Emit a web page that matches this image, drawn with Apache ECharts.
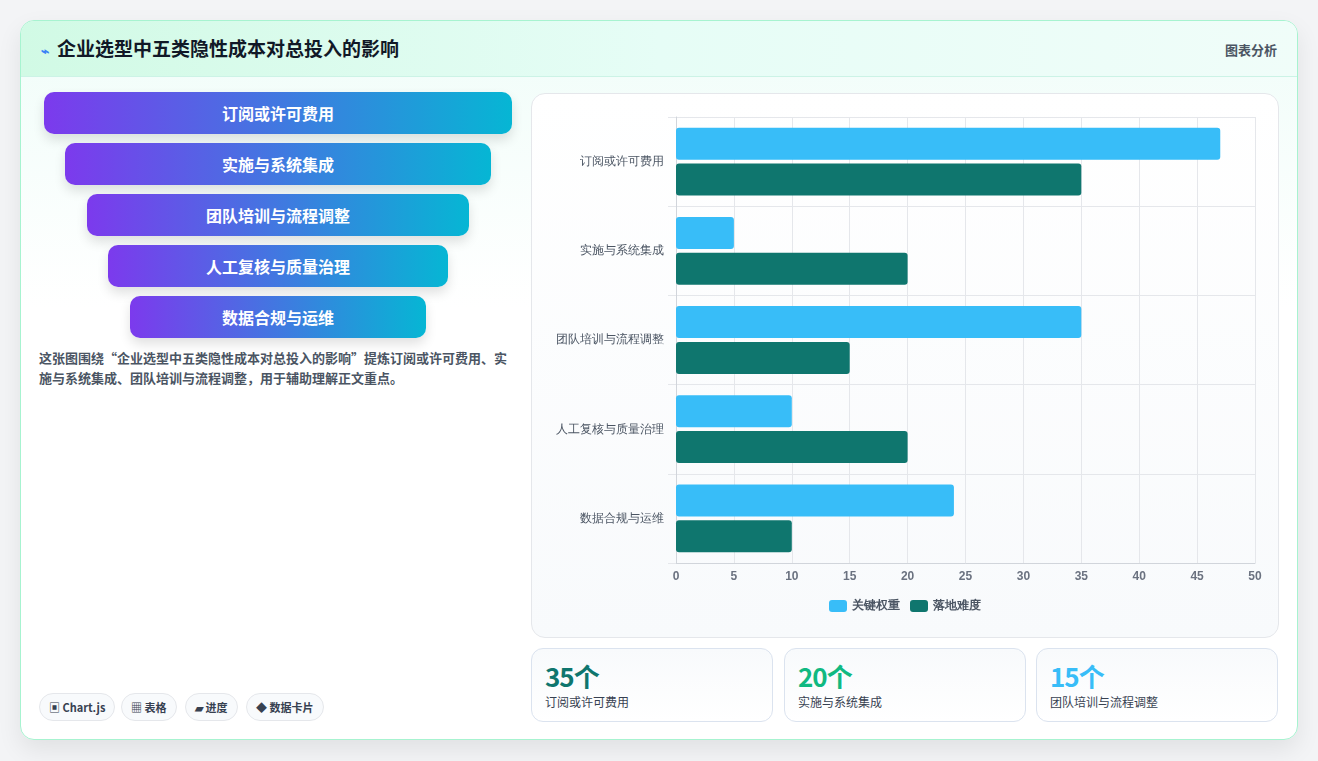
<!DOCTYPE html>
<html>
<head>
<meta charset="utf-8">
<script src="https://cdn.jsdelivr.net/npm/echarts@6/dist/echarts.min.js"></script>
<style>
  body { margin: 0; width: 1318px; height: 761px; background: #f3f4f6; font-family: "Noto Sans CJK SC", "Noto Sans", sans-serif; overflow: hidden; }
  .card { position: absolute; left: 20px; top: 20px; width: 1276px; height: 718px; background: linear-gradient(#f0fdf9, #ffffff 40%); border: 1px solid #a7f3d0; border-radius: 14px; box-shadow: 0 10px 24px rgba(0,0,0,0.08); overflow: hidden; }
  .head { position: absolute; left: 0; top: 0; right: 0; height: 55px; background: linear-gradient(90deg, #d1fae5, #e6fdf6, #f0fdf9); border-bottom: 1px solid #ccf3e6; }
  .title { position: absolute; left: 20px; top: 13px; font-size: 19px; font-weight: bold; color: #111827; }
  .title span { color: #3b82f6; font-size: 14px; margin-right: 8px; }
  .tag { position: absolute; right: 20px; top: 19px; font-size: 13px; color: #4b5563; font-weight: bold; }
  .fun { position: absolute; height: 42px; border-radius: 10px; background: linear-gradient(90deg, #7c3aed, #06b6d4); color: #fff; font-weight: bold; font-size: 16px; text-align: center; line-height: 42px; box-shadow: 0 6px 12px rgba(0,0,0,0.12); }
  .desc { position: absolute; left: 18px; top: 327px; width: 475px; font-size: 13px; line-height: 20px; color: #4b5563; font-weight: bold; }
  .badge { position: absolute; top: 672px; height: 26px; line-height: 26px; padding: 0 9px; border: 1px solid #e5e7eb; border-radius: 14px; background: #f8fafc; font-size: 11px; color: #374151; font-weight: bold; }
  .panel { position: absolute; left: 510px; top: 72px; width: 746px; height: 543px; border: 1px solid #e5e7eb; border-radius: 14px; background: linear-gradient(#ffffff, #f8fafc); }
  #chart { width: 746px; height: 543px; }
  .stat { position: absolute; top: 627px; width: 240px; height: 72px; border: 1px solid #dbe3ef; border-radius: 12px; background: linear-gradient(#f8fafc, #ffffff); }
  .stat b { position: absolute; left: 13px; top: 8px; font-size: 26px; letter-spacing: -1px; }
  .stat i { position: absolute; left: 13px; top: 44px; font-size: 12px; font-style: normal; color: #374151; }
</style>
</head>
<body>
<div class="card">
  <div class="head">
    <div class="title"><span>⌁</span>企业选型中五类隐性成本对总投入的影响</div>
    <div class="tag">图表分析</div>
  </div>
  <div class="fun" style="left:23px;top:71px;width:468px">订阅或许可费用</div>
  <div class="fun" style="left:44px;top:122px;width:426px">实施与系统集成</div>
  <div class="fun" style="left:66px;top:173px;width:382px">团队培训与流程调整</div>
  <div class="fun" style="left:87px;top:224px;width:340px">人工复核与质量治理</div>
  <div class="fun" style="left:109px;top:275px;width:296px">数据合规与运维</div>
  <div class="desc">这张图围绕“企业选型中五类隐性成本对总投入的影响”提炼订阅或许可费用、实施与系统集成、团队培训与流程调整，用于辅助理解正文重点。</div>
  <div class="badge" style="left:18px">▣ Chart.js</div>
  <div class="badge" style="left:100px">▦ 表格</div>
  <div class="badge" style="left:164px">▰ 进度</div>
  <div class="badge" style="left:225px">◆ 数据卡片</div>
  <div class="panel"><div id="chart"></div></div>
  <div class="stat" style="left:510px"><b style="color:#0f766e">35个</b><i>订阅或许可费用</i></div>
  <div class="stat" style="left:763px"><b style="color:#10b981">20个</b><i>实施与系统集成</i></div>
  <div class="stat" style="left:1015px"><b style="color:#38bdf8">15个</b><i>团队培训与流程调整</i></div>
</div>
<script>
const categories = ['订阅或许可费用', '实施与系统集成', '团队培训与流程调整', '人工复核与质量治理', '数据合规与运维'];
const weightValues = [47, 5, 35, 10, 24];
const difficultyValues = [35, 20, 15, 20, 10];

const chart = echarts.init(document.getElementById('chart'));
chart.setOption({
  animation: false,
  grid: { left: 144, right: 23, top: 23, bottom: 74 },
  legend: {
    bottom: 20,
    itemWidth: 18, itemHeight: 12, itemGap: 10,
    textStyle: { color: '#4b5563', fontWeight: 'bold', fontSize: 12 },
    data: ['关键权重', '落地难度']
  },
  xAxis: {
    type: 'value', min: 0, max: 50, interval: 5,
    axisLine: { show: true, lineStyle: { color: '#d1d5db' } },
    axisTick: { show: false },
    axisLabel: { color: '#6b7280', fontWeight: 'bold', fontSize: 12 },
    splitLine: { lineStyle: { color: '#e5e7eb' } }
  },
  yAxis: {
    type: 'category', inverse: true, data: categories,
    axisLine: { lineStyle: { color: '#d1d5db' } },
    axisTick: { show: true, length: 8, lineStyle: { color: '#e5e7eb' } },
    axisLabel: { color: '#4b5563', fontSize: 12, margin: 12 },
    splitLine: { show: true, lineStyle: { color: '#e5e7eb' } }
  },
  series: [
    { name: '关键权重', type: 'bar', data: weightValues, barGap: '12%', barCategoryGap: '24%',
      itemStyle: { color: '#38bdf8', borderRadius: 3 } },
    { name: '落地难度', type: 'bar', data: difficultyValues,
      itemStyle: { color: '#0f766e', borderRadius: 3 } }
  ]
});
</script>
</body>
</html>
